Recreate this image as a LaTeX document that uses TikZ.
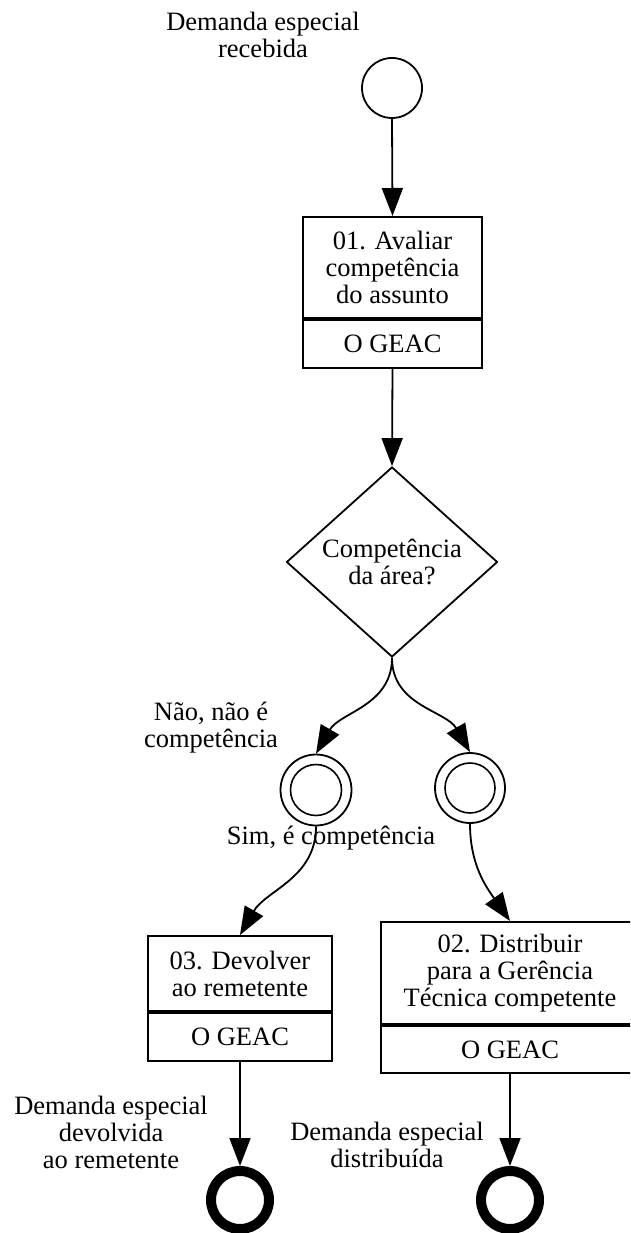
\documentclass[tikz,border=0pt]{standalone}
\usepackage{fontspec}
\setmainfont{Liberation Serif}
\usetikzlibrary{arrows.meta, shapes.geometric, positioning, calc}

\tikzset{
  fluxo/.style={-{Triangle[length=28pt,width=21pt]}, line width=1.8pt},
  tarefa/.style={draw, line width=2pt, align=center, inner sep=0pt},
  evento/.style={draw, circle, line width=1.8pt, inner sep=0pt},
  fimev/.style={draw, circle, line width=10pt, minimum size=58pt, inner sep=0pt},
  rotulo/.style={align=center, inner sep=0pt}
}

\begin{document}
\begin{tikzpicture}[x=1pt, y=-1pt, font=\fontsize{26.5}{27}\selectfont]
      \clip (0,0) rectangle (630,1233);

      \node[evento, minimum size=60pt] (inicio) at (392,88) {};
      \node[rotulo] (linicio) at (263,35) {Demanda especial\\recebida};

      \node[tarefa, minimum width=179pt, minimum height=101pt] (t01) at (392.5,267.5) {01. Avaliar\\competência\\do assunto};
      \node[tarefa, minimum width=179pt, minimum height=48pt, below=0pt of t01] (t01r) {O GEAC};

      \node[draw, diamond, align=center, line width=1.8pt, aspect=1.1, minimum width=211pt, minimum height=190pt, inner sep=0pt] (area) at (392,562) {Competência\\da área?};

      \node[evento, minimum size=71pt] (nao) at (316,790) {};
      \draw[line width=1.6pt] (nao) circle[radius=25.5];
      \node[evento, minimum size=70pt] (sim) at (470,788) {};
      \draw[line width=1.6pt] (sim) circle[radius=25];

      \node[rotulo] (lnao) at (211,728) {Não, não é\\competência};
      \node[rotulo] (lsim) at (331,838) {Sim, é competência};

      \node[tarefa, minimum width=184pt, minimum height=75pt] (t03) at (240,973.5) {03. Devolver\\ao remetente};
      \node[tarefa, minimum width=184pt, minimum height=48pt, below=0pt of t03] (t03r) {O GEAC};

      \node[tarefa, minimum width=258pt, minimum height=102pt] (t02) at (510,973) {02. Distribuir\\para a Gerência\\Técnica competente};
      \node[tarefa, minimum width=258pt, minimum height=47pt, below=0pt of t02] (t02r) {O GEAC};

      \node[fimev] (fim1) at (240,1200) {};
      \node[fimev] (fim2) at (510,1200) {};
      \node[rotulo] (lfim1) at (111,1132) {Demanda especial\\devolvida\\ao remetente};
      \node[rotulo] (lfim2) at (387,1145) {Demanda especial\\distribuída};

      \draw[fluxo] (inicio.south) -- (t01.north);
      \draw[fluxo] (t01r.south) -- (area.north);
      \draw[fluxo] (area.south) to[out=-90,in=60] (nao.north);
      \draw[fluxo] (area.south) to[out=-90,in=120] (sim.north);
      \draw[fluxo] (nao.south) to[out=-90,in=60] (t03.north);
      \draw[fluxo] (sim.south) to[out=-90,in=125] (t02.north);
      \draw[fluxo] (t03r.south) -- (fim1.north);
      \draw[fluxo] (t02r.south) -- (fim2.north);
    \end{tikzpicture}
\end{document}
